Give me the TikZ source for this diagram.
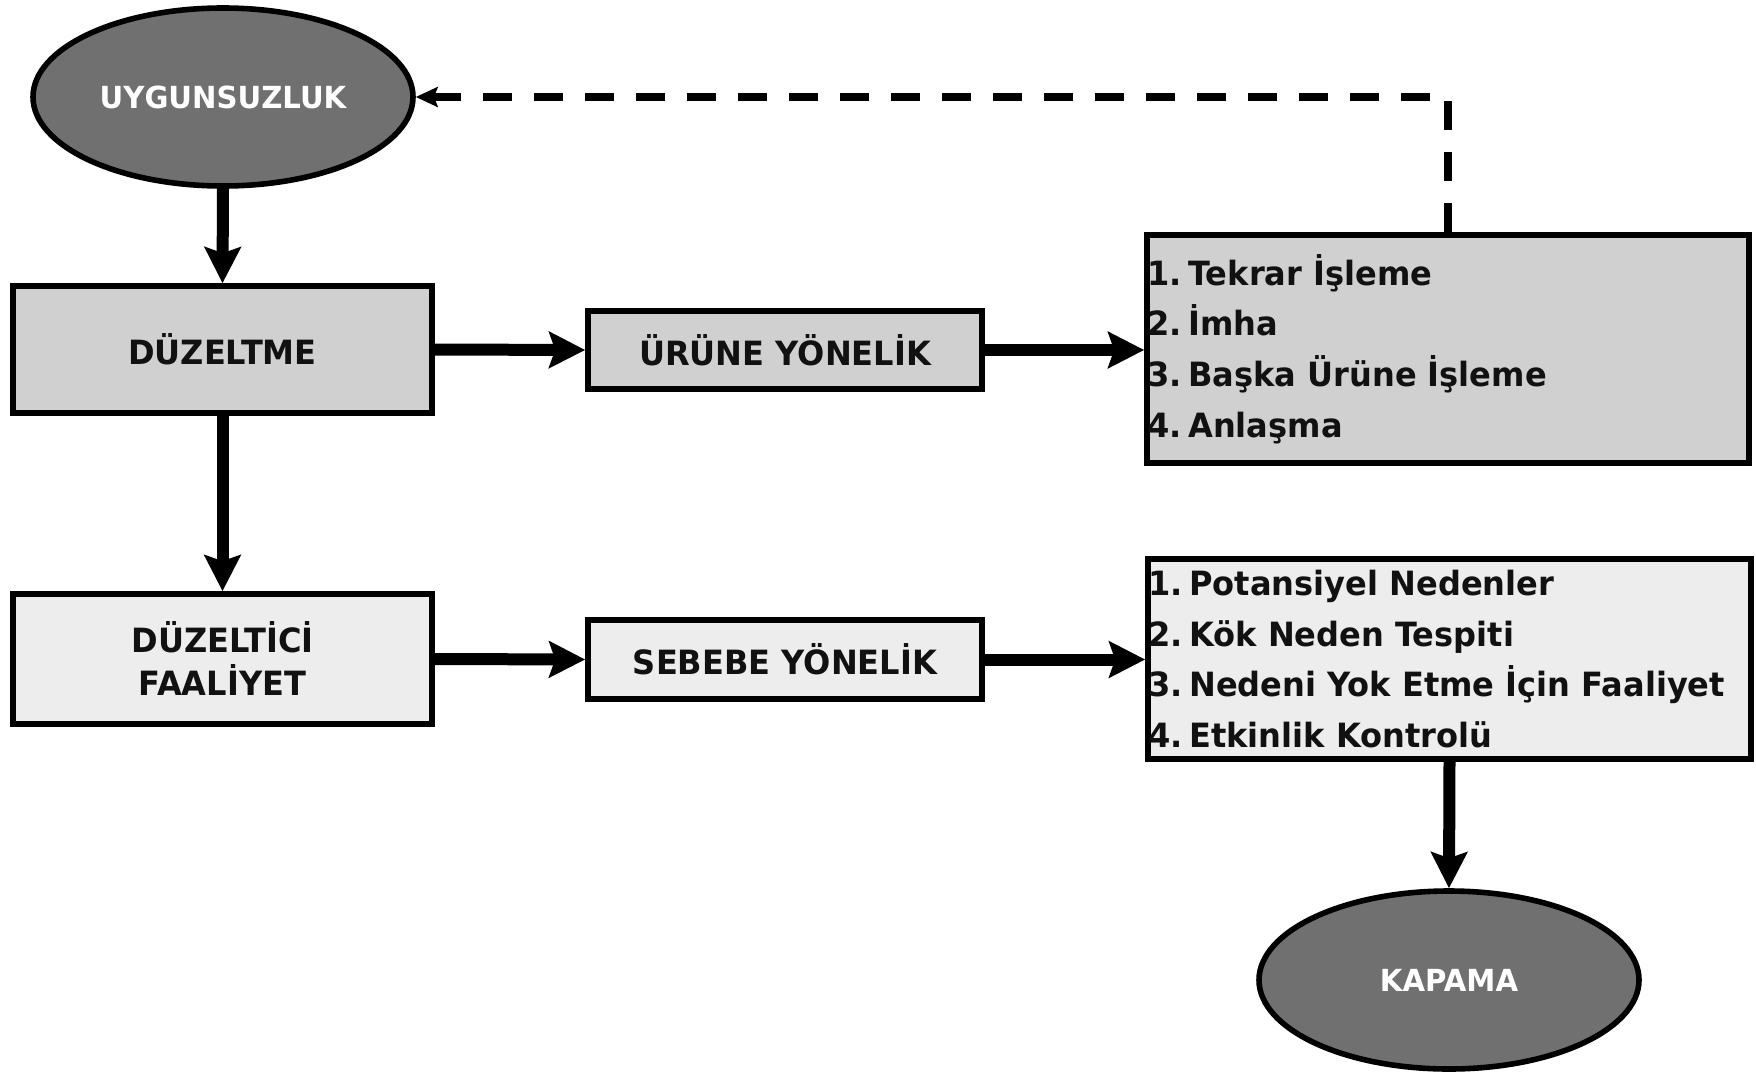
\documentclass[tikz,border=0pt]{standalone}
\usepackage{fontspec}
\setmainfont{DejaVu Sans}[FakeStretch=0.96]
\usetikzlibrary{shapes.geometric,arrows.meta,calc}
\definecolor{ovalgray}{HTML}{707070}
\definecolor{boxgray}{HTML}{D0D0D0}
\definecolor{boxlight}{HTML}{EDEDED}
\definecolor{ink}{HTML}{111111}
% list number with a tight gap before the item text
\newcommand\itemno[1]{#1.\hspace{3.4pt}}

\begin{document}
\begin{tikzpicture}[x=0.5pt,y=-0.5pt,
  labelfont/.style={font=\fontsize{16.7}{21.5}\selectfont\bfseries},
  oval/.style={ellipse, draw=black, line width=2.8pt, fill=ovalgray, text=white,
    minimum width=190pt, minimum height=89pt, inner sep=0pt,
    font=\fontsize{15.2}{18}\selectfont\bfseries},
  stagebox/.style={rectangle, draw=black, line width=2.8pt, text=ink,
    inner sep=0pt, align=center, labelfont},
  listbox/.style={rectangle, draw=black, line width=2.8pt, text=ink,
    inner xsep=0pt, inner ysep=0pt, align=left,
    font=\fontsize{16.7}{25.3}\selectfont\bfseries},
  flow/.style={line width=6pt, -{Stealth[length=18pt,width=18pt,inset=3pt]}},
  feedback/.style={line width=4pt, dash pattern=on 14.5pt off 11pt,
    -{Stealth[length=11pt,width=10pt,inset=2pt]}}
]
\useasboundingbox (0,0) rectangle (1756,1076);

% start and end ovals
\node[oval] (nonconf) at (223,97) {UYGUNSUZLUK};
\node[oval] (closing) at (1449,980) {KAPAMA};

% main stages
\node[stagebox, fill=boxgray, minimum width=209.5pt, minimum height=63.5pt]
  (correction) at (222.5,349.5) {DÜZELTME};
\node[stagebox, fill=boxlight, minimum width=209.5pt, minimum height=65pt]
  (corrective) at (222.5,659) {DÜZELTİCİ\\FAALİYET};
\node[stagebox, fill=boxgray, minimum width=197pt, minimum height=39pt]
  (product) at (785,350) {ÜRÜNE YÖNELİK};
\node[stagebox, fill=boxlight, minimum width=197pt, minimum height=39.5pt]
  (cause) at (785,659.5) {SEBEBE YÖNELİK};

% option lists
\node[listbox, fill=boxgray, text width=301pt, minimum height=114pt]
  (productlist) at (1448,349)
  {\itemno{1}Tekrar İşleme\\\itemno{2}İmha\\\itemno{3}Başka Ürüne İşleme\\\itemno{4}Anlaşma};
\node[listbox, fill=boxlight, text width=301.5pt, minimum height=100pt]
  (causelist) at (1449.5,659)
  {\itemno{1}Potansiyel Nedenler\\\itemno{2}Kök Neden Tespiti\\\itemno{3}Nedeni Yok Etme İçin Faaliyet\\\itemno{4}Etkinlik Kontrolü};

% connectors
\draw[flow] (nonconf.south) -- (correction.north);
\draw[flow] (correction.south) -- (corrective.north);
\draw[flow] (correction.east) -- (product.west);
\draw[flow] (corrective.east) -- (cause.west);
\draw[flow] (product.east) -- (product.east -| productlist.west);
\draw[flow] (cause.east) -- (cause.east -| causelist.west);
\draw[flow] (causelist.south) -- (closing.north);
\draw[feedback] (productlist.north) |- (nonconf.east);
\end{tikzpicture}
\end{document}
